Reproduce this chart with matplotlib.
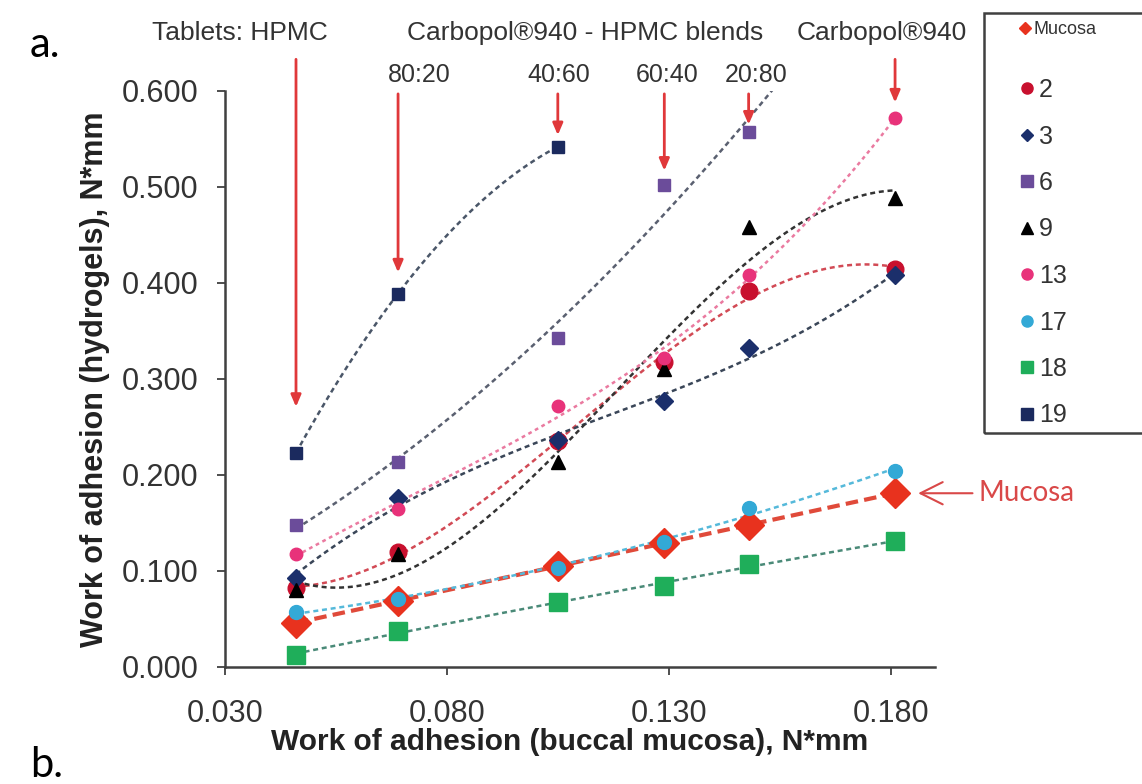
import numpy as np
import matplotlib
matplotlib.use('Agg')
from matplotlib import pyplot as plt
from matplotlib.lines import Line2D
from matplotlib.patches import Rectangle

plt.rcParams['font.family'] = ['Liberation Sans', 'DejaVu Sans']

# work of adhesion on buccal mucosa (x) and of the gels (y), N*mm
mucosa_x = [0.046, 0.069, 0.105, 0.129, 0.148, 0.181]
mucosa_y = [0.046, 0.069, 0.105, 0.129, 0.148, 0.181]
gel_2 = [0.082, 0.120, 0.235, 0.318, 0.392, 0.415]
gel_3 = [0.093, 0.176, 0.236, 0.277, 0.332, 0.408]
gel_6 = [0.148, 0.214, 0.343, 0.502, 0.557]
gel_9 = [0.080, 0.118, 0.214, 0.310, 0.458, 0.489]
gel_13 = [0.118, 0.165, 0.272, 0.322, 0.408, 0.572]
gel_17 = [0.057, 0.071, 0.103, 0.130, 0.166, 0.204]
gel_18 = [0.013, 0.037, 0.068, 0.084, 0.107, 0.131]
gel_19 = [0.223, 0.389, 0.542]

labels = ['2', '3', '6', '9', '13', '17', '18', '19']
series = [gel_2, gel_3, gel_6, gel_9, gel_13, gel_17, gel_18, gel_19]

# marker, marker colour, marker size, trend colour, dashes, poly order, forward forecast
styles = [
    ('o', '#c8102e', 12, '#d24a55', (2, 1.5), 3, 0),
    ('D', '#1b2f6b', 9, '#3a4658', (2, 1.5), 3, 0),
    ('s', '#6b4c9a', 9, '#5a6070', (2, 1.5), 2, 0.007),
    ('^', '#000000', 10, '#333333', (2, 1.5), 3, 0),
    ('o', '#e8327a', 9, '#ea7aa0', (1.5, 1.5), 3, 0),
    ('o', '#33a9d6', 10, '#55b9da', (2, 1.5), 2, 0),
    ('s', '#1fae5a', 13, '#4a8a78', (2, 1.5), 2, 0),
    ('s', '#1b2a5e', 9, '#4a5668', (2, 1.5), 2, 0),
]

fig = plt.figure(figsize=(11.42, 7.84), dpi=100)
ax = fig.add_axes([225/1142, 1-667/784, 710/1142, 576/784])

# mucosa reference
ax.plot(mucosa_x, mucosa_y, color='#e04a3a', lw=3, dashes=(3, 1.5), zorder=2)
ax.plot(mucosa_x, mucosa_y, 'D', color='#e8321e', ms=15, ls='none', zorder=3)

for y, (mk, mc, ms, lc, ds, deg, fwd) in zip(series, styles):
    x = np.array(mucosa_x[:len(y)])
    c = np.polyfit(x, y, deg)
    xx = np.linspace(x[0], x[-1] + fwd, 120)
    ax.plot(xx, np.polyval(c, xx), color=lc, lw=1.8, dashes=ds, zorder=2)
    ax.plot(x, y, mk, color=mc, ms=ms, ls='none', zorder=3)

ax.set_xlim(0.030, 0.190)
ax.set_ylim(0, 0.6)
ax.set_xticks([0.030, 0.080, 0.130, 0.180])
ax.set_xticklabels(['0.030', '0.080', '0.130', '0.180'])
ax.set_yticks(np.arange(0, 0.61, 0.1))
ax.set_yticklabels(['%.3f' % v for v in np.arange(0, 0.61, 0.1)])
for s in ['top', 'right']:
    ax.spines[s].set_visible(False)
for s in ['left', 'bottom']:
    ax.spines[s].set_color('#404040')
    ax.spines[s].set_linewidth(1.8)
ax.tick_params(axis='y', length=6, width=1.3, color='#404040', pad=13,
               labelsize=22, labelcolor='#333333')
ax.tick_params(axis='x', length=6, width=1.3, color='#404040', pad=17,
               labelsize=22, labelcolor='#333333')

ax.set_xlabel('Work of adhesion (buccal mucosa), N*mm', fontsize=21.5,
              fontweight='bold', color='#222222')
ax.xaxis.set_label_coords(0.486, -0.131)
ax.xaxis.label.set_va('center')
ax.set_ylabel('Work of adhesion (hydrogels), N*mm', fontsize=22,
              fontweight='bold', color='#222222')
ax.yaxis.set_label_coords(-0.162, 0.5)

# arrows marking the tablets
red = '#e0383a'
arrows = [(0, 0.633, 0.271), (1, 0.597, 0.411), (2, 0.597, 0.554),
          (3, 0.597, 0.517), (4, 0.597, 0.565), (5, 0.633, 0.588)]
for i, y0, y1 in arrows:
    ax.annotate('', xy=(mucosa_x[i], y1), xytext=(mucosa_x[i], y0),
                annotation_clip=False,
                arrowprops=dict(arrowstyle='-|>,head_length=0.7,head_width=0.3',
                                color=red, lw=2, shrinkA=0, shrinkB=0))

ratios = [('80:20', 0.0738), ('40:60', 0.1053), ('60:40', 0.1296), ('20:80', 0.1497)]
for t, xp in ratios:
    ax.text(xp, 0.6167, t, fontsize=18, color='#333333', ha='center',
            va='center', clip_on=False)

fig.text(240/1142, 1-33/784, 'Tablets: HPMC', fontsize=19, color='#333333',
         ha='center', va='center')
fig.text(585/1142, 1-33/784, 'Carbopol®940 - HPMC blends', fontsize=19,
         color='#333333', ha='center', va='center')
fig.text(882/1142, 1-33/784, 'Carbopol®940', fontsize=19, color='#333333',
         ha='center', va='center')

ax.annotate('Mucosa', xy=(0.1862, mucosa_y[-1]), xytext=(0.1997, mucosa_y[-1]),
            fontsize=20, color='#d94848', family=['Lato', 'DejaVu Sans'],
            ha='left', va='center', annotation_clip=False,
            arrowprops=dict(arrowstyle='->,head_length=0.8,head_width=0.4',
                            color='#d94848', lw=1.5, shrinkA=2, shrinkB=0))

fig.text(30/1142, 1-45/784, 'a.', fontsize=30, family=['Lato', 'DejaVu Sans'],
         ha='left', va='center')
fig.text(30/1142, 1-765/784, 'b.', fontsize=30, family=['Lato', 'DejaVu Sans'],
         ha='left', va='center')

# legend
fig.patches.append(Rectangle((984/1142, 1-433/784), 0.3, 420/784,
                             transform=fig.transFigure, fill=False,
                             edgecolor='#404040', lw=1.8))
h0 = [Line2D([], [], marker='D', color='#e8321e', ls='none', ms=6)]
leg0 = fig.legend(h0, ['Mucosa'], loc='upper left',
                  bbox_to_anchor=(1020/1142, 1-21/784), frameon=False,
                  fontsize=13, handlelength=0.6, handletextpad=0.15,
                  borderpad=0, borderaxespad=0)
hs = [Line2D([], [], marker=st[0], color=st[1], ls='none', ms=8 if st[0] != 'D' else 6.5)
      for st in styles]
leg1 = fig.legend(hs, labels, loc='upper left',
                  bbox_to_anchor=(1019/1142, 1-78/784), frameon=False,
                  fontsize=18, handlelength=0.65, handletextpad=0.15,
                  labelspacing=0.9, borderpad=0, borderaxespad=0)
for t in leg1.get_texts() + leg0.get_texts():
    t.set_color('#333333')

fig.savefig('out.png', dpi=100)
